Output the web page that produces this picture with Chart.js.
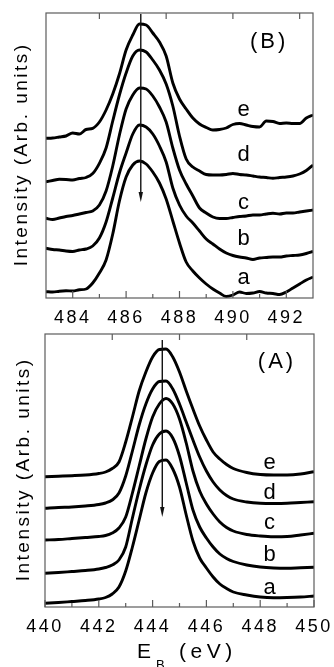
<!DOCTYPE html>
<html><head><meta charset="utf-8">
<title>XPS spectra</title>
<script src="https://cdn.jsdelivr.net/npm/chart.js"></script>
<style>
  body { margin: 0; background: #ffffff; width: 334px; height: 667px; overflow: hidden; position: relative; }
  canvas { position: absolute; left: 0; }
  #chartB { top: 0; }
  #chartA { top: 330px; }
</style>
</head>
<body>
<canvas id="chartB" width="334" height="330"></canvas>
<canvas id="chartA" width="334" height="337"></canvas>

<script>
const FONT = "'Liberation Sans', Arial, Helvetica, sans-serif";

// ---- panel B (upper) ----
const energyB = [483, 483.25, 483.5, 483.75, 484, 484.25, 484.5, 484.75, 485, 485.25, 485.5, 485.75,
  486, 486.25, 486.5, 486.75, 487, 487.25, 487.5, 487.75, 488, 488.25, 488.5, 488.75, 489, 489.25,
  489.5, 489.75, 490, 490.25, 490.5, 490.75, 491, 491.25, 491.5, 491.75, 492, 492.25, 492.5, 492.75, 493];
const bA = [6.3, 6, 6.8, 7.2, 7, 8.2, 9, 15, 25, 38, 64, 97, 121, 133, 137, 134, 126, 115, 99, 77, 55, 36,
  27, 20, 14, 9, 5, 1.5, 3, 6, 4.5, 5, 6.5, 5, 4.5, 3.5, 6, 10, 14, 18, 21];
const bB = [49.7, 48.5, 48, 47, 46.5, 48, 49, 52, 60, 76, 100, 125, 145, 164, 173, 171, 164, 152, 136, 110,
  93, 82, 75, 67, 59, 54, 49, 45, 42.5, 41, 40, 38.5, 40, 40.5, 41, 41, 42, 42.5, 43, 44.5, 46.5];
const bC = [79.7, 78.5, 80, 81.5, 82.5, 84, 85.5, 87, 93, 107, 132, 163, 189, 203, 210, 209, 202, 191, 176,
  150, 128, 114, 102, 90, 85, 81, 79.5, 79.5, 80.5, 81.5, 82, 83, 83, 84, 84.7, 84, 85, 85, 86, 87, 88];
const bD = [116.3, 117.5, 118.7, 118.5, 118, 119.5, 120.5, 124.5, 134.7, 150, 177, 203, 225, 242, 248, 246,
  238, 228, 214, 192, 162, 139, 131, 127, 123.5, 123, 123, 123.5, 124.5, 123.5, 123, 122, 121, 120.5,
  119.7, 120.5, 121, 122, 124, 127.5, 133];
const bE = [159.7, 160, 161, 162, 165, 164, 168.5, 169.7, 176, 188, 204, 224, 248, 263, 274, 273, 265, 256,
  242, 215, 199, 189, 180, 174, 170.5, 168, 168.5, 170, 173.5, 174.5, 173, 171.5, 171, 177, 176.5, 174.5,
  175, 174.5, 174.5, 180, 183];
const majorB = [484, 486, 488, 490, 492];
const minorB = [485, 487, 489, 491];
const topB = [485, 487.5, 490, 492.5];

// ---- panel A (lower) ----
const energyA = [440, 440.5, 441, 441.5, 442, 442.25, 442.5, 442.75, 443, 443.25, 443.5, 443.75, 444,
  444.25, 444.5, 444.75, 445, 445.25, 445.5, 445.75, 446, 446.25, 446.5, 446.75, 447, 447.5, 448,
  448.5, 449, 449.5, 450];
const aA = [3.7, 4.5, 5.5, 6.5, 8, 9.5, 13, 20, 36, 60, 87, 114, 134, 145.5, 147, 138, 120, 92, 66, 49, 39,
  30, 23, 18.5, 15, 12, 10, 9.3, 9.5, 10, 11];
const aB = [33.7, 34.5, 35.5, 36.5, 38, 39.5, 42, 47, 60, 89, 117, 142, 162, 173, 176, 169, 151, 124, 97,
  80, 69, 60, 53, 48.5, 45.5, 42, 40, 39, 38.7, 39.2, 39.7];
const aC = [67, 67.5, 68.5, 69.5, 70.5, 71.5, 74, 79, 90, 114, 141, 168, 190, 203, 208.5, 203, 188, 164,
  136, 116, 103, 93, 85, 79.5, 76, 72.5, 71, 70.3, 70.5, 72, 73.7];
const aD = [98.7, 99.5, 100, 101, 102.5, 104, 107, 114, 131, 156, 182, 203, 218, 225.5, 226, 218, 203, 185,
  167, 150, 136, 125, 117, 111.5, 108, 105, 103.7, 103.5, 103.7, 104.5, 105.3];
const aE = [130.3, 130.8, 131.3, 132, 133.5, 135, 138.5, 145, 165, 190, 216, 235, 250, 257.5, 258, 250,
  235, 216, 198, 181, 167, 155, 148, 142.5, 138.5, 134.5, 132.5, 132, 132, 133, 135.3];
const majorA = [440, 442, 444, 446, 448, 450];
const minorA = [441, 443, 445, 447, 449];
const topA = [442.5, 445, 447.5];

const curveNames = ['a', 'b', 'c', 'd', 'e'];

// frame, inward ticks, arrow, curve letters, titles
const decor = {
  id: 'decor',
  beforeUpdate(chart) { chart.ctx.letterSpacing = '2.5px'; },
  beforeDraw(chart) { chart.ctx.letterSpacing = '2.5px'; },
  afterDraw(chart, args, o) {
    const { ctx, chartArea: ca, scales: { x, y } } = chart;
    ctx.save();
    ctx.strokeStyle = '#5c5c5c';
    ctx.lineWidth = 1.2;
    ctx.strokeRect(ca.left, ca.top, ca.right - ca.left, ca.bottom - ca.top);
    ctx.beginPath();
    o.major.forEach(v => { const p = x.getPixelForValue(v); ctx.moveTo(p, ca.bottom); ctx.lineTo(p, ca.bottom - 7); });
    o.minor.forEach(v => { const p = x.getPixelForValue(v); ctx.moveTo(p, ca.bottom); ctx.lineTo(p, ca.bottom - 4); });
    o.top.forEach(v => { const p = x.getPixelForValue(v); ctx.moveTo(p, ca.top); ctx.lineTo(p, ca.top + 6); });
    ctx.stroke();

    // arrow
    const ax = x.getPixelForValue(o.arrow.x);
    const y1 = y.getPixelForValue(o.arrow.from), y2 = y.getPixelForValue(o.arrow.to);
    ctx.strokeStyle = '#111';
    ctx.fillStyle = '#111';
    ctx.lineWidth = 1.4;
    ctx.beginPath(); ctx.moveTo(ax, y1); ctx.lineTo(ax, y2 - 6); ctx.stroke();
    ctx.beginPath(); ctx.moveTo(ax, y2); ctx.lineTo(ax - 2.2, y2 - 10); ctx.lineTo(ax + 2.2, y2 - 10); ctx.closePath(); ctx.fill();

    ctx.fillStyle = '#000';
    ctx.textAlign = 'center';
    ctx.textBaseline = 'middle';
    ctx.letterSpacing = '0px';
    ctx.font = '22px ' + FONT;
    curveNames.forEach((n, i) => {
      ctx.fillText(n, x.getPixelForValue(o.letters.x), y.getPixelForValue(o.letters.y[i]));
    });
    ctx.letterSpacing = '3px';
    ctx.fillText(o.panel.text, x.getPixelForValue(o.panel.x) + 1.5, y.getPixelForValue(o.panel.y));

    // y title
    ctx.save();
    ctx.font = '19px ' + FONT;
    ctx.letterSpacing = '2.5px';
    ctx.translate(o.yTitleX, (ca.top + ca.bottom) / 2);
    ctx.rotate(-Math.PI / 2);
    ctx.fillText('Intensity (Arb. units)', 1.2, 0);
    ctx.restore();

    if (o.xTitle) {
      ctx.textAlign = 'left';
      ctx.textBaseline = 'alphabetic';
      ctx.letterSpacing = '0px';
      ctx.font = '21px ' + FONT;
      ctx.fillText('E', 137, ca.bottom + 51);
      ctx.font = '13px ' + FONT;
      ctx.fillText('B', 156, ca.bottom + 62);
      ctx.font = '21px ' + FONT;
      ctx.letterSpacing = '4.5px';
      ctx.fillText('(eV)', 179, ca.bottom + 51);
    }
    ctx.restore();
  }
};

function makeDatasets(lists) {
  return lists.map((d, i) => ({
    label: curveNames[i],
    data: d,
    borderColor: '#000',
    borderWidth: 2.9,
    pointRadius: 0,
    fill: false,
    cubicInterpolationMode: 'monotone'
  }));
}

function makeChart(id, energy, lists, xMin, xMax, yMax, majors, pad, xHeight, decorOpts) {
  return new Chart(document.getElementById(id), {
    type: 'line',
    data: { labels: energy, datasets: makeDatasets(lists) },
    options: {
      responsive: false,
      animation: false,
      events: [],
      layout: { padding: pad },
      scales: {
        x: {
          type: 'linear',
          min: xMin,
          max: xMax,
          grid: { display: false },
          border: { display: false },
          afterBuildTicks: s => { s.ticks = majors.map(v => ({ value: v })); },
          afterFit: s => { s.height = xHeight; },
          ticks: { color: '#000', padding: 1, maxRotation: 0, autoSkip: false, font: { family: FONT, size: 18 } }
        },
        y: { display: false, min: 0, max: yMax }
      },
      plugins: { legend: { display: false }, tooltip: { enabled: false }, decor: decorOpts }
    },
    plugins: [decor]
  });
}

makeChart('chartB', energyB, [bA, bB, bC, bD, bE], 483, 493, 285, majorB,
  { left: 46, right: 21, top: 13, bottom: 0 }, 32, {
    major: majorB, minor: minorB, top: topB,
    arrow: { x: 486.55, from: 284, to: 96 },
    letters: { x: 490.4, y: [19.7, 58.7, 94.7, 143, 188] },
    panel: { text: '(B)', x: 491.3, y: 256 },
    yTitleX: 22, xTitle: false
  });

makeChart('chartA', energyA, [aA, aB, aC, aD, aE], 440, 450, 273, majorA,
  { left: 45, right: 20, top: 4, bottom: 0 }, 60, {
    major: majorA, minor: minorA, top: topA,
    arrow: { x: 444.36, from: 267, to: 90 },
    letters: { x: 448.35, y: [18.7, 52, 83.7, 113.7, 143.7] },
    panel: { text: '(A)', x: 448.57, y: 245 },
    yTitleX: 24, xTitle: true
  });
</script>
</body></html>
